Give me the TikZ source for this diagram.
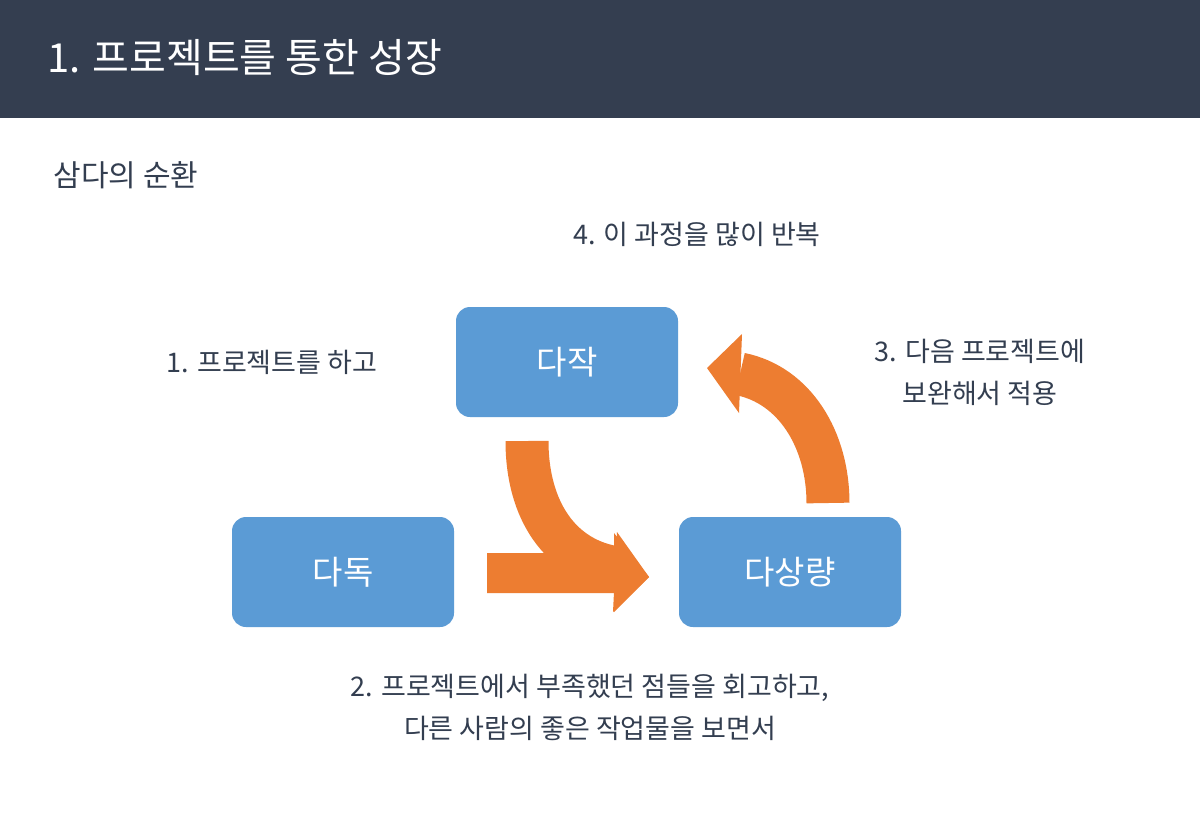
\documentclass[tikz,border=0pt]{standalone}
\usepackage{fontspec}
\newfontfamily\kr{Noto Sans CJK KR}
\definecolor{hdr}{HTML}{343E50}
\definecolor{txt}{HTML}{333E50}
\definecolor{boxc}{HTML}{5B9BD5}
\definecolor{arr}{HTML}{ED7D31}
\begin{document}
\begin{tikzpicture}[x=1pt,y=-1pt,
  box/.style={fill=boxc,rounded corners=14pt,minimum width=222pt,minimum height=110pt,text=white,font=\kr\fontsize{33}{40}\selectfont},
  lbl/.style={text=txt,font=\kr\fontsize{27}{42}\selectfont,align=center},
  band/.style={draw=arr,line width=43pt}]
\useasboundingbox (0,0) rectangle (1200,831);
\fill[white] (0,0) rectangle (1200,831);
\fill[hdr] (0,0) rectangle (1200,118);
\node[anchor=west,text=white,font=\kr\fontsize{40}{48}\selectfont] (title) at (44,58) {1. 프로젝트를 통한 성장};
\node[anchor=west,lbl,font=\kr\fontsize{30}{36}\selectfont] (sub) at (50,175) {삼다의 순환};
\node[lbl] (l4) at (697,234) {4. 이 과정을 많이 반복};
\node[box] (jak) at (567,362) {다작};
\node[box] (dok) at (343,572) {다독};
\node[box] (sang) at (790,572) {다상량};
\node[lbl] (l1) at (272,362) {1. 프로젝트를 하고};
\node[lbl] (l3) at (980,372) {3. 다음 프로젝트에\\보완해서 적용};
\node[lbl] (l2) at (590,707) {2. 프로젝트에서 부족했던 점들을 회고하고,\\다른 사람의 좋은 작업물을 보면서};
% arrow jak -> sang (curved)
\draw[band] (527,441) .. controls (527,510) and (560,560) .. (618,568);
% arrow dok -> sang (straight)
\fill[arr] (487,553) -- (614,553) -- (614,533) -- (649,577) -- (614,612) -- (614,593) -- (487,593) -- cycle;
\fill[arr] (617,532) -- (649,577) -- (613,612) -- cycle;
% arrow sang -> jak (curved)
\draw[band] (828,503) .. controls (828,440) and (795,385) .. (740,374);
\fill[arr] (742,334) -- (707,368) -- (739,413) -- cycle;
\end{tikzpicture}
\end{document}
